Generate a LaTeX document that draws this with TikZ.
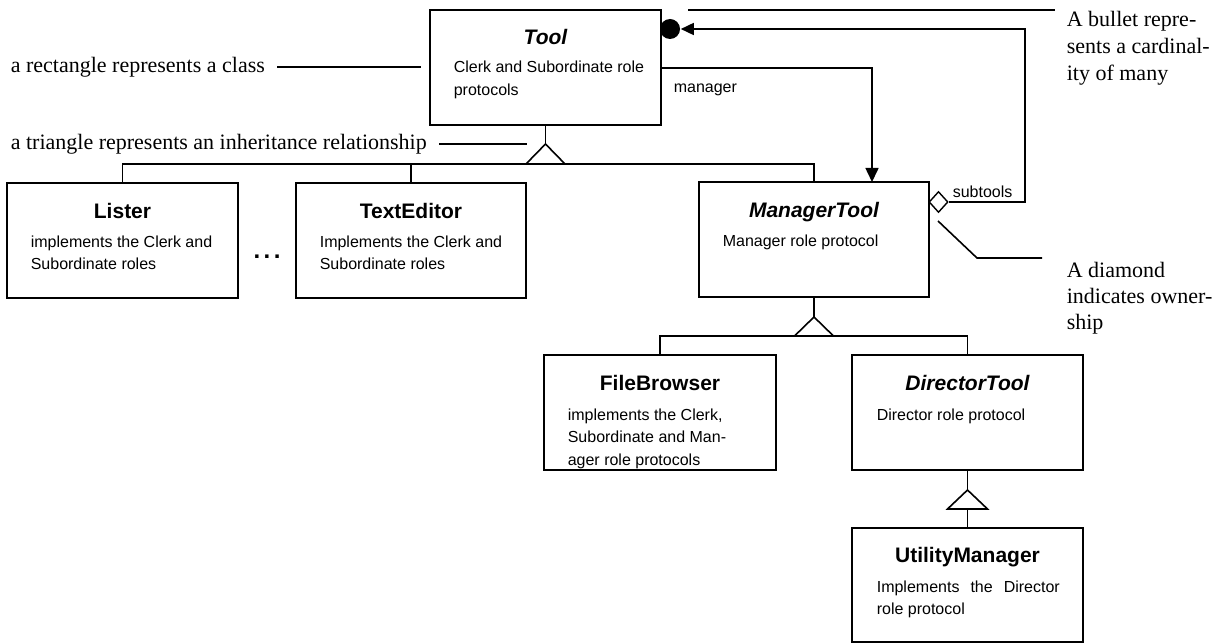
\documentclass[tikz,border=0pt]{standalone}
\usepackage{fontspec}
\setmainfont{Liberation Serif}
\setsansfont{Liberation Sans}
\usetikzlibrary{arrows.meta,shapes.geometric,calc}
\begin{document}
\begin{tikzpicture}[x=1pt,y=-1pt, line width=1.6pt,
  cls/.style={draw, rectangle, anchor=north west, inner sep=0pt, outer sep=0pt, line width=1.6pt},
  ttl/.style={font=\sffamily\bfseries\fontsize{21}{25}\selectfont, anchor=base, inner sep=0pt},
  ittl/.style={font=\sffamily\bfseries\itshape\fontsize{21}{25}\selectfont, anchor=base, inner sep=0pt},
  body/.style={font=\sffamily\fontsize{16}{22}\selectfont, anchor=base west, inner sep=0pt},
  note/.style={font=\fontsize{22}{27}\selectfont, anchor=base west, inner sep=0pt},
  inh/.style={draw, fill=white, line width=1.6pt, line join=miter},
  conn/.style={line width=1.6pt},
  arr/.style={conn, -{Triangle[length=14pt,width=13pt]}},
]
\useasboundingbox (0,0) rectangle (1215,644);

% ---- class boxes
\node[cls, minimum width=231pt, minimum height=115pt] (tool) at (430,10) {};
\node[cls, minimum width=231pt, minimum height=115pt] (lister) at (7,183) {};
\node[cls, minimum width=230pt, minimum height=115pt] (texted) at (296,183) {};
\node[cls, minimum width=230pt, minimum height=115pt] (mgr) at (699,182) {};
\node[cls, minimum width=232pt, minimum height=115pt] (fb) at (544,355) {};
\node[cls, minimum width=231pt, minimum height=115pt] (dir) at (852,355) {};
\node[cls, minimum width=231pt, minimum height=114pt] (um) at (852,528) {};

% ---- texts in boxes
\node[ittl] (toolT) at (545.5,45) {Tool};
\node[body] (toolB1) at (453,73) {Clerk and Subordinate role};
\node[body] (toolB2) at (453,96) {protocols};

\node[ttl] (listerT) at (122.5,219) {Lister};
\node[body] (listerB1) at (30,248) {implements the Clerk and};
\node[body] (listerB2) at (30,270) {Subordinate roles};

\node[ttl, font=\sffamily\bfseries\fontsize{24}{28}\selectfont] (dots) at (267,259) {.\hspace{3.5pt}.\hspace{3.5pt}.};

\node[ttl] (textedT) at (411,219) {TextEditor};
\node[body] (textedB1) at (319,248) {Implements the Clerk and};
\node[body] (textedB2) at (319,270) {Subordinate roles};

\node[ittl] (mgrT) at (814,218) {ManagerTool};
\node[body] (mgrB1) at (722,247) {Manager role protocol};

\node[ttl] (fbT) at (660,390) {FileBrowser};
\node[body] (fbB1) at (567,420) {implements the Clerk,};
\node[body] (fbB2) at (567,442) {Subordinate and Man-};
\node[body] (fbB3) at (567,465) {ager role protocols};

\node[ittl] (dirT) at (967.5,390) {DirectorTool};
\node[body] (dirB1) at (876,420) {Director role protocol};

\node[ttl] (umT) at (967.5,562) {UtilityManager};
\node[body] (umB1) at (876,592) {\hbox to 183pt{Implements\hfill the\hfill Director}};
\node[body] (umB2) at (876,614) {role protocol};

% ---- inheritance: Tool
\coordinate (ap1) at ($(tool.south)+(0,19)$);
\coordinate (bar1) at (0,164);
\draw[conn] (tool.south) -- (ap1);
\draw[conn] (lister.north) |- (bar1 -| mgr.north) -- (mgr.north);
\draw[conn] (texted.north) -- (texted.north |- bar1);
\draw[inh] (ap1) -- ++(-19.5,20) -- ++(39,0) -- cycle;

% ---- inheritance: ManagerTool
\coordinate (ap2) at ($(mgr.south)+(0,20)$);
\coordinate (bar2) at (0,336);
\draw[conn] (mgr.south) -- (ap2);
\draw[conn] (fb.north) |- (bar2 -| dir.north) -- (dir.north);
\draw[inh] (ap2) -- ++(-19.5,19) -- ++(39,0) -- cycle;

% ---- inheritance: DirectorTool
\coordinate (ap3) at ($(dir.south)+(0,20)$);
\draw[conn] (dir.south) -- (ap3);
\draw[conn] (um.north) -- ++(0,-19);
\draw[inh] (ap3) -- ++(-20,19) -- ++(40,0) -- cycle;

% ---- manager association
\coordinate (mgrStart) at (661,68);
\draw[arr] (mgrStart) -| (mgr.north -| 872,0);
\node[body] (mgrLbl) at (673,93) {manager};

% ---- subtools aggregation
\node[diamond, draw, fill=white, inner sep=0pt, minimum width=19pt, minimum height=21pt, line width=1.4pt] (dia) at (938.5,202) {};
\node[body] (subLbl) at (952,198) {subtools};
\node[circle, fill=black, inner sep=0pt, minimum size=20pt] (bullet) at (670,29) {};
\coordinate (loopC) at (1025,202);
\draw[conn, -{Triangle[length=13pt,width=12pt]}] (dia.east) -- (loopC) |- (bullet.east);

% ---- annotations
\node[note] (n1) at (10,73) {a rectangle represents a class};
\coordinate (n1a) at (277,67);
\coordinate (n1b) at (421,67);
\draw[conn] (n1a) -- (n1b);

\node[note] (n2) at (10,150) {a triangle represents an inheritance relationship};
\coordinate (n2a) at (439,144);
\coordinate (n2b) at (527,144);
\draw[conn] (n2a) -- (n2b);

\coordinate (n3a) at (688,10);
\coordinate (n3b) at (1055,10);
\draw[conn] (n3a) -- (n3b);
\node[note] (n3l1) at (1066,27) {A bullet repre-};
\node[note] (n3l2) at (1066,54) {sents a cardinal-};
\node[note] (n3l3) at (1066,81) {ity of many};

\coordinate (n4a) at (938,221);
\coordinate (n4b) at (977,258);
\coordinate (n4c) at (1042,258);
\draw[conn] (n4a) -- (n4b) -- (n4c);
\node[note] (n4l1) at (1066,277) {A diamond};
\node[note] (n4l2) at (1066,303) {indicates owner-};
\node[note] (n4l3) at (1066,329) {ship};
\end{tikzpicture}
\end{document}
